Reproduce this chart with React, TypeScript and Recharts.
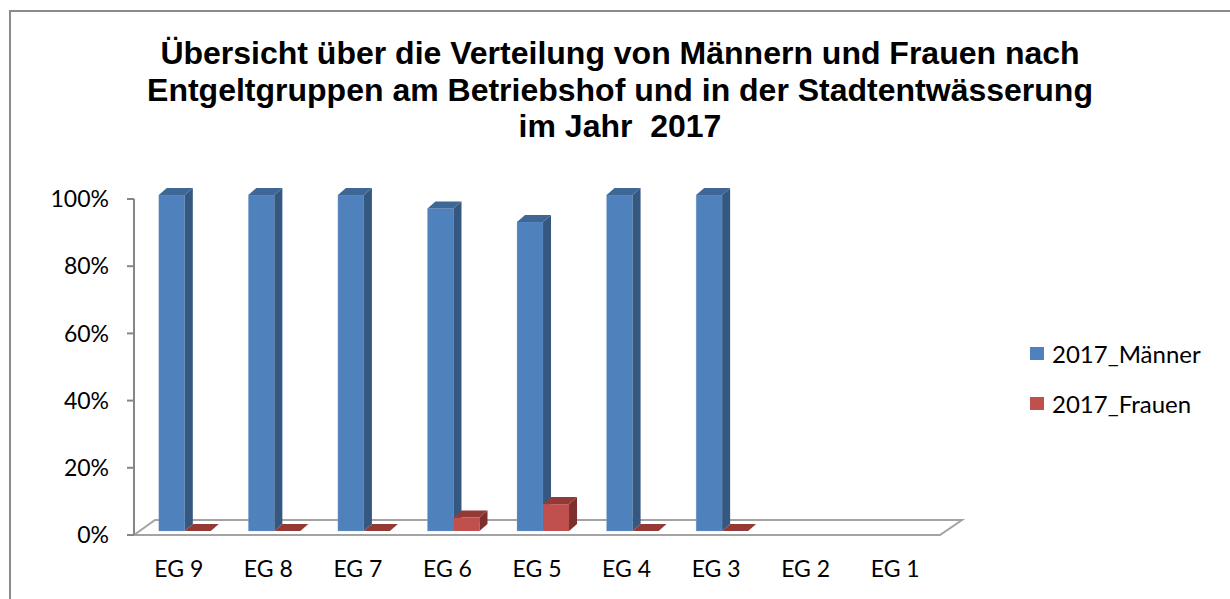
import React from 'react';
import { BarChart, Bar, XAxis, YAxis, ReferenceLine, Legend } from 'recharts';

const categories = ['EG 9', 'EG 8', 'EG 7', 'EG 6', 'EG 5', 'EG 4', 'EG 3', 'EG 2', 'EG 1'];
const maenner: (number | null)[] = [100, 100, 100, 96, 92, 100, 100, null, null];
const frauen: (number | null)[] = [0, 0, 0, 4, 8, 0, 0, null, null];
const yTicks = [0, 20, 40, 60, 80, 100];
const boundaryTicks = [0, 1, 2, 3, 4, 5, 6, 7, 8, 9];
const seriesNames = ['2017_Männer', '2017_Frauen'];
const titleLines = [
  'Übersicht über die Verteilung von Männern und Frauen nach',
  'Entgeltgruppen am Betriebshof und in der Stadtentwässerung',
  'im Jahr  2017',
];

const data = categories.map((c, i) => ({ name: c, m: maenner[i], f: frauen[i] }));

const FONT = 'Lato, "Open Sans", sans-serif';
const AXIS = '#868686';
const BLUE = { front: '#4F81BD', side: '#34587F', top: '#3F6796' };
const RED = { front: '#C0504D', side: '#7E2F2D', top: '#933A37' };

const SHIFT_X = 6;
const SHIFT_Y = -4;
const DX = 8;
const DY = -7;

const make3D = (c: { front: string; side: string; top: string }) => (props: any) => {
  const { x, y, width, height, value } = props;
  const v = Array.isArray(value) ? value[1] : value;
  if (v == null || x == null || isNaN(x)) return <g />;
  const X = x + SHIFT_X;
  const Y = y + SHIFT_Y;
  const w = width;
  const h = Math.max(0, height);
  return (
    <g>
      {h > 0 && <rect x={X} y={Y} width={w} height={h} fill={c.front} stroke="#8FB0DA" strokeOpacity={c === BLUE ? 0.5 : 0} strokeWidth={0.6} />}
      {h > 0 && (
        <polygon
          points={`${X + w},${Y} ${X + w + DX},${Y + DY} ${X + w + DX},${Y + h + DY} ${X + w},${Y + h}`}
          fill={c.side}
        />
      )}
      <polygon
        points={`${X},${Y} ${X + DX},${Y + DY} ${X + w + DX},${Y + DY} ${X + w},${Y}`}
        fill={c.top}
      />
    </g>
  );
};

const FloorShape = (props: any) => {
  const { x1, y1, x2, y2 } = props;
  const fx = 21;
  const fy = -15;
  return (
    <g>
      <polygon
        points={`${x1},${y1} ${x1 + fx},${y1 + fy} ${x2 + fx + 1},${y2 + fy} ${x2},${y2}`}
        fill="none"
        stroke="#A3A3A3"
        strokeWidth={2}
      />
    </g>
  );
};

const LegendContent = () => {
  const colors = [BLUE.front, RED.front];
  return (
    <div style={{ fontFamily: FONT, fontSize: 24, color: '#000' }}>
      {seriesNames.map((n, i) => (
        <div key={n} style={{ display: 'flex', alignItems: 'center', height: 50 }}>
          <div style={{ width: 14, height: 13, background: colors[i], marginRight: 8 }} />
          <span>{n}</span>
        </div>
      ))}
    </div>
  );
};

export default function App() {
  return (
    <div style={{ position: 'absolute', left: 0, top: 0, width: 1230, height: 599, overflow: 'hidden', background: '#fff' }}>
      <div
        style={{
          position: 'absolute',
          left: 9,
          top: 10,
          width: 1400,
          height: 800,
          borderLeft: '2px solid #8A8A8A',
          borderTop: '2px solid #8A8A8A',
        }}
      />
      <div
        style={{
          position: 'absolute',
          left: 0,
          top: 35,
          width: 1240,
          textAlign: 'center',
          fontFamily: '"Liberation Sans", Arial, sans-serif',
          fontWeight: 'bold',
          fontSize: 32,
          lineHeight: '36.5px',
          color: '#000',
          whiteSpace: 'pre',
        }}
      >
        {titleLines.map((l) => (
          <div key={l}>{l}</div>
        ))}
      </div>
      <div style={{ position: 'absolute', left: 0, top: 0 }}>
        <BarChart
          width={1230}
          height={599}
          data={data}
          margin={{ top: 199, right: 290, bottom: 14, left: 0 }}
          barCategoryGap="21%"
          barGap={0}
        >
          <XAxis
            xAxisId="grid"
            type="number"
            domain={[0, 9]}
            ticks={boundaryTicks}
            height={0}
            tick={false}
            tickSize={7}
            axisLine={{ stroke: AXIS, strokeWidth: 2 }}
            tickLine={{ stroke: AXIS, strokeWidth: 2 }}
            allowDataOverflow
          />
          <XAxis
            xAxisId="cat"
            dataKey="name"
            height={50}
            axisLine={false}
            tickLine={false}
            tickSize={0}
            tickMargin={26}
            interval={0}
            tick={{ fill: '#000', fontSize: 23, fontFamily: FONT }}
          />
          <YAxis
            domain={[0, 100]}
            ticks={yTicks}
            width={134}
            tickSize={7}
            tickMargin={18}
            tickFormatter={(v: number) => `${v}%`}
            axisLine={{ stroke: AXIS, strokeWidth: 2 }}
            tickLine={{ stroke: AXIS, strokeWidth: 2 }}
            tick={{ fill: '#000', fontSize: 23, fontFamily: FONT }}
          />
          <ReferenceLine y={0} xAxisId="cat" shape={FloorShape} ifOverflow="visible" zIndex={-1} />
          <Bar xAxisId="cat" dataKey="m" name={seriesNames[0]} fill={BLUE.front} shape={make3D(BLUE)} isAnimationActive={false} />
          <Bar xAxisId="cat" dataKey="f" name={seriesNames[1]} fill={RED.front} shape={make3D(RED)} isAnimationActive={false} />
          <Legend
            layout="vertical"
            align="center"
            verticalAlign="middle"
            content={<LegendContent />}
            wrapperStyle={{ left: 1030, top: 328, width: 200 }}
          />
        </BarChart>
      </div>
    </div>
  );
}
